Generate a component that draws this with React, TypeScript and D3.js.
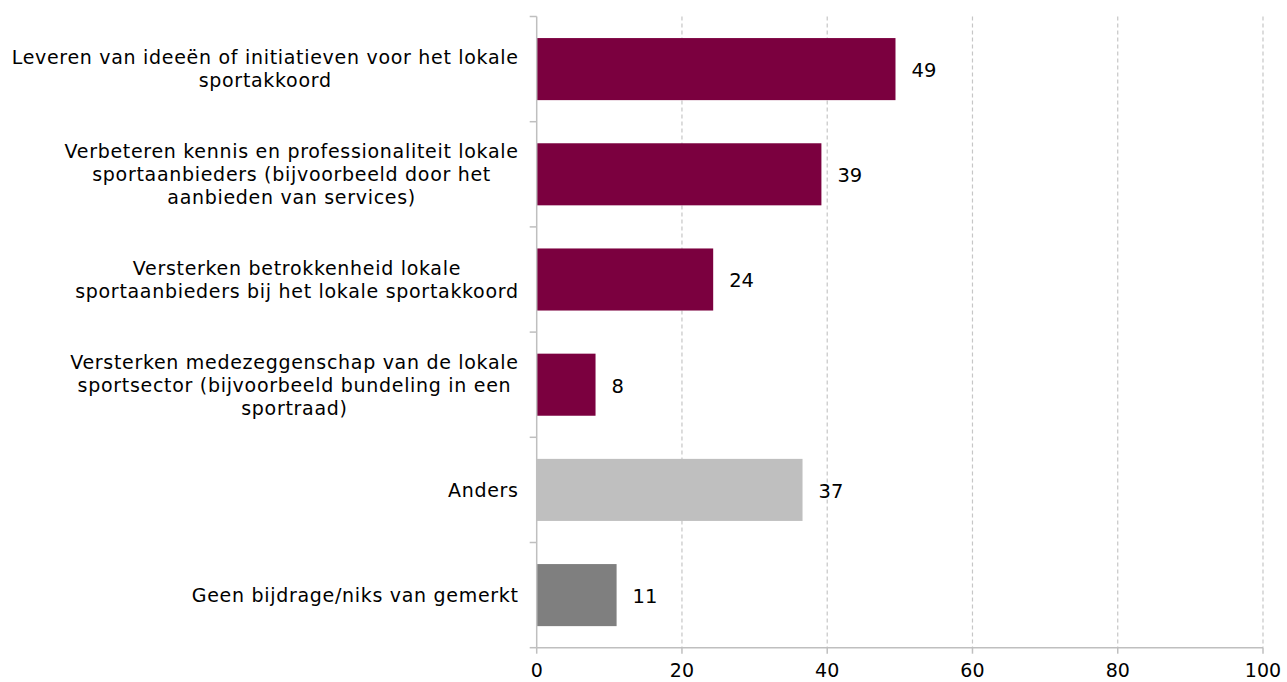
import React, { useEffect, useRef } from 'react';
import * as d3 from 'd3';

const categories = [
  'Leveren van ideeën of initiatieven voor het lokale|sportakkoord',
  'Verbeteren kennis en professionaliteit lokale|sportaanbieders (bijvoorbeeld door het|aanbieden van services)',
  'Versterken betrokkenheid lokale|sportaanbieders bij het lokale sportakkoord',
  'Versterken medezeggenschap van de lokale|sportsector (bijvoorbeeld bundeling in een|sportraad)',
  'Anders',
  'Geen bijdrage/niks van gemerkt',
];
const values = [49.4, 39.2, 24.3, 8.1, 36.6, 11.0];
const valueLabels = ['49', '39', '24', '8', '37', '11'];
const barColors = ['#7b003f', '#7b003f', '#7b003f', '#7b003f', '#bfbfbf', '#7f7f7f'];
const xTicks = [0, 20, 40, 60, 80, 100];

const FONT = '"DejaVu Sans", Verdana, sans-serif';

const App: React.FC = () => {
  const svgRef = useRef<SVGSVGElement>(null);

  useEffect(() => {
    if (!svgRef.current) return;
    const width = 1287;
    const height = 682;
    const margin = { top: 16.5, right: 24, bottom: 34.3, left: 536.7 };
    const innerWidth = width - margin.left - margin.right;
    const innerHeight = height - margin.top - margin.bottom;

    const svg = d3.select(svgRef.current)
      .attr('width', width)
      .attr('height', height)
      .html('');

    const g = svg.append('g')
      .attr('transform', `translate(${margin.left},${margin.top})`);

    const x = d3.scaleLinear().domain([0, 100]).range([0, innerWidth]);
    const y = d3.scaleBand<number>()
      .domain(d3.range(categories.length))
      .range([0, innerHeight])
      .paddingInner(0.41)
      .paddingOuter(0.205);
    const step = y.step();

    // dashed grid
    g.selectAll('line.grid')
      .data(xTicks.filter(t => t > 0))
      .join('line')
      .attr('class', 'grid')
      .attr('x1', d => x(d))
      .attr('x2', d => x(d))
      .attr('y1', 0)
      .attr('y2', innerHeight)
      .attr('stroke', '#c6c6c6')
      .attr('stroke-width', 1.2)
      .attr('stroke-dasharray', '4,3');

    // bars
    g.selectAll('rect.bar')
      .data(values)
      .join('rect')
      .attr('class', 'bar')
      .attr('x', 0)
      .attr('y', (_, i) => y(i)!)
      .attr('width', d => x(d))
      .attr('height', y.bandwidth())
      .attr('fill', (_, i) => barColors[i]);

    // value labels
    g.selectAll('text.val')
      .data(values)
      .join('text')
      .attr('class', 'val')
      .attr('x', d => x(d) + 16)
      .attr('y', (_, i) => y(i)! + y.bandwidth() / 2)
      .attr('dy', '0.4em')
      .attr('font-family', FONT)
      .attr('font-size', 19.5)
      .attr('fill', '#000')
      .text((_, i) => valueLabels[i]);

    // left axis
    g.append('line')
      .attr('x1', 0).attr('x2', 0)
      .attr('y1', 0).attr('y2', innerHeight)
      .attr('stroke', '#bfbfbf').attr('stroke-width', 1.5);
    g.selectAll('line.ytick')
      .data(d3.range(categories.length + 1))
      .join('line')
      .attr('class', 'ytick')
      .attr('x1', -7).attr('x2', 0)
      .attr('y1', d => d * step)
      .attr('y2', d => d * step)
      .attr('stroke', '#bfbfbf').attr('stroke-width', 1.5);

    // bottom axis
    g.append('line')
      .attr('x1', 0).attr('x2', innerWidth)
      .attr('y1', innerHeight).attr('y2', innerHeight)
      .attr('stroke', '#bfbfbf').attr('stroke-width', 1.5);
    g.selectAll('line.xtick')
      .data(xTicks)
      .join('line')
      .attr('class', 'xtick')
      .attr('x1', d => x(d)).attr('x2', d => x(d))
      .attr('y1', innerHeight).attr('y2', innerHeight + 6)
      .attr('stroke', '#bfbfbf').attr('stroke-width', 1.5);
    g.selectAll('text.xlab')
      .data(xTicks)
      .join('text')
      .attr('class', 'xlab')
      .attr('x', d => x(d))
      .attr('y', innerHeight + 29.5)
      .attr('text-anchor', 'middle')
      .attr('font-family', FONT)
      .attr('font-size', 19)
      .attr('fill', '#000')
      .text(d => d);

    // category labels: lines centred within a right-aligned block
    const lineH = 23;
    const rightEdge = -18;
    categories.forEach((cat, i) => {
      const lines = cat.split('|');
      const cy = y(i)! + y.bandwidth() / 2;
      const t = g.append('text')
        .attr('font-family', FONT)
        .attr('font-size', 19)
        .attr('letter-spacing', 0.7)
        .attr('fill', '#000')
        .attr('text-anchor', 'middle');
      const spans = lines.map((ln, k) => t.append('tspan')
        .attr('y', cy + (k - (lines.length - 1) / 2) * lineH)
        .attr('dy', '0.36em')
        .text(ln));
      const maxW = d3.max(spans, s => (s.node() as SVGTSpanElement).getComputedTextLength()) || 0;
      spans.forEach(s => s.attr('x', rightEdge - maxW / 2));
    });
  }, []);

  return (
    <div style={{ position: 'fixed', left: 0, top: 0, width: 1287, height: 682, overflow: 'hidden', background: '#fff' }}>
      <svg ref={svgRef} style={{ display: 'block' }} />
    </div>
  );
};

export default App;
